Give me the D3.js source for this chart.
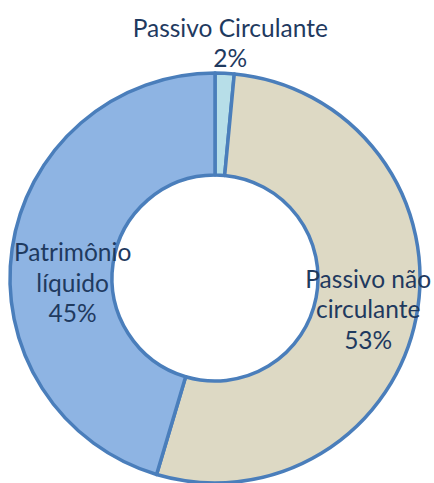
<!DOCTYPE html>
<html>
<head>
<meta charset="utf-8">
<script src="https://cdn.jsdelivr.net/npm/d3@7"></script>
<style>
  html, body { margin: 0; padding: 0; background: #ffffff; }
  svg { display: block; }
</style>
</head>
<body>
<svg id="chart" width="434" height="483"></svg>
<script>
// Balance sheet composition (share of total, %)
const categories = ["Passivo Circulante", "Passivo não circulante", "Patrimônio líquido"];
const values = [1.5, 53.1, 45.4];
const fills = ["#B7DEE8", "#DDD9C4", "#8EB4E3"];
// Label lines per slice; the percentage line is appended from the value
const labelLines = [["Passivo Circulante"], ["Passivo não", "circulante"], ["Patrimônio", "líquido"]];

const width = 434, height = 483;
const cx = 215, cy = 278;
const outerR = 205, innerR = 103;

const svg = d3.select("#chart");
const g = svg.append("g").attr("transform", `translate(${cx},${cy})`);

const total = d3.sum(values);
const data = categories.map((c, i) => ({ name: c, value: values[i], fill: fills[i], lines: labelLines[i] }));

const pie = d3.pie().value(d => d.value).sort(null);
const arc = d3.arc().innerRadius(innerR).outerRadius(outerR);
const arcs = pie(data);

g.selectAll("path.slice")
  .data(arcs)
  .join("path")
  .attr("class", "slice")
  .attr("d", arc)
  .attr("fill", d => d.data.fill)
  .attr("stroke", "#4A7EBB")
  .attr("stroke-width", 3.5)
  .attr("stroke-linejoin", "round");

// Label placement relative to each slice's centroid
const labelShift = [[8, -80], [2, 3], [10, 28]];
const lineH = 30.5;

const fmt = v => Math.round(v / total * 100) + "%";

arcs.forEach((a, i) => {
  const [x, y] = arc.centroid(a);
  const lines = a.data.lines.concat([fmt(a.data.value)]);
  const lx = x + labelShift[i][0];
  const ly = y + labelShift[i][1];
  const t = g.append("text")
    .attr("text-anchor", "middle")
    .attr("font-family", "Lato, 'Open Sans', sans-serif")
    .attr("font-size", 24.5)
    .attr("fill", "#1F3A5F");
  const n = lines.length;
  lines.forEach((s, k) => {
    t.append("tspan")
      .attr("x", lx)
      .attr("y", ly + (k - (n - 1) / 2) * lineH + 8)
      .text(s);
  });
});
</script>
</body>
</html>
